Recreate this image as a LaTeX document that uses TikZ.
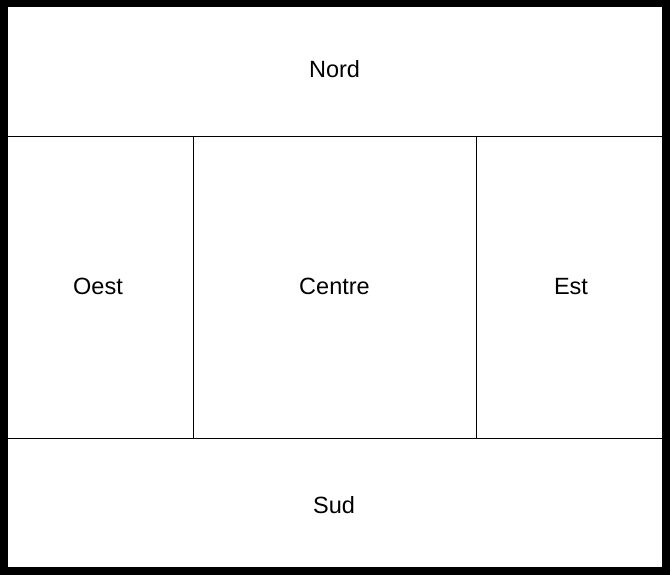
\documentclass[tikz,border=0pt]{standalone}
\usepackage{fontspec}
\setmainfont{Liberation Sans}
\begin{document}
\begin{tikzpicture}[x=1pt,y=-1pt,
  region/.style={anchor=base,inner sep=0pt,font=\fontsize{23.5}{28}\selectfont},
  divider/.style={line width=1pt,black}]
\useasboundingbox (0,0) rectangle (670,575);
\fill[white] (0,0) rectangle (670,575);
% inner dividers
\draw[divider] (7,136.5) -- (662,136.5);
\draw[divider] (7,438.3) -- (662,438.3);
\draw[divider] (193.3,136.5) -- (193.3,438.3);
\draw[divider] (476.3,136.5) -- (476.3,438.3);
% outer frame
\draw[line width=7.5pt] (3.75,3.75) rectangle (666,571);
% labels
\node[region] (nord) at (334.5,78) {Nord};
\node[region] (oest) at (98,294.3) {Oest};
\node[region] (centre) at (334.5,294.3) {Centre};
\node[region] (est) at (571,294.3) {Est};
\node[region] (sud) at (334,513) {Sud};
\end{tikzpicture}
\end{document}
